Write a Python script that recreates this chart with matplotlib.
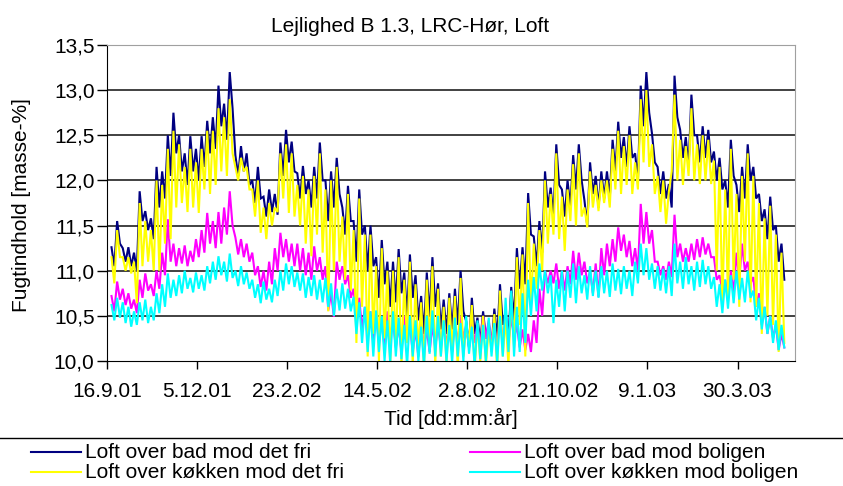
import numpy as np
import matplotlib
matplotlib.use("Agg")
import matplotlib.pyplot as plt
from matplotlib.lines import Line2D

plt.rcParams['font.family'] = ['Liberation Sans', 'DejaVu Sans']

title = "Lejlighed B 1.3, LRC-Hør, Loft"
xlabel = "Tid [dd:mm:år]"
ylabel = "Fugtindhold [masse-%]"

# x axis: days after 16.9.01, ticks every 80 days
tick_days = [0, 80, 160, 240, 320, 400, 480, 560]
tick_labels = ["16.9.01", "5.12.01", "23.2.02", "14.5.02",
               "2.8.02", "21.10.02", "9.1.03", "30.3.03"]
ytick_vals = [10.0, 10.5, 11.0, 11.5, 12.0, 12.5, 13.0, 13.5]
ytick_labels = ["10,0", "10,5", "11,0", "11,5", "12,0", "12,5", "13,0", "13,5"]

# readings every 5 days: high and low edge of each series (masse-%)
bad_fri_hi = [
    11.26, 11.55, 11.25, 11.26, 11.20, 11.88, 11.66, 11.58, 12.15, 12.10,
    12.50, 12.75, 12.50, 12.30, 12.49, 12.35, 12.49, 12.66, 12.70, 13.05,
    12.85, 13.20, 12.28, 12.38, 12.30, 12.00, 12.15, 11.82, 11.90, 11.85,
    12.42, 12.56, 12.43, 12.08, 12.16, 12.00, 12.15, 12.42, 12.00, 12.10,
    12.25, 11.70, 11.94, 11.55, 11.90, 11.50, 11.50, 11.15, 11.34, 11.10,
    11.10, 11.24, 10.98, 11.18, 10.95, 10.72, 10.98, 11.15, 10.86, 10.68,
    10.75, 10.80, 11.00, 10.44, 10.70, 10.48, 10.55, 10.42, 10.58, 10.85,
    10.55, 10.82, 11.25, 11.26, 11.86, 11.38, 11.55, 12.10, 11.92, 12.40,
    11.90, 12.00, 12.28, 12.40, 11.78, 12.20, 12.05, 12.10, 12.10, 12.45,
    12.65, 12.48, 12.60, 12.30, 13.05, 13.20, 12.52, 12.15, 12.10, 11.96,
    13.16, 12.56, 12.48, 12.95, 12.50, 12.60, 12.56, 12.32, 12.25, 12.00,
    12.45, 11.95, 12.15, 12.40, 12.15, 11.85, 11.68, 11.82, 11.50, 11.30]
bad_fri_lo = [
    11.05, 11.30, 11.10, 11.05, 11.00, 11.55, 11.45, 11.35, 11.70, 11.80,
    12.05, 12.30, 12.10, 11.95, 12.10, 12.00, 12.15, 12.30, 12.35, 12.60,
    12.45, 12.80, 12.05, 12.10, 11.95, 11.75, 11.80, 11.60, 11.65, 11.62,
    12.05, 12.20, 12.10, 11.80, 11.85, 11.70, 11.80, 12.00, 11.55, 11.70,
    11.85, 11.40, 11.55, 11.10, 11.40, 11.00, 11.05, 10.70, 10.85, 10.60,
    10.65, 10.75, 10.50, 10.70, 10.45, 10.30, 10.50, 10.60, 10.35, 10.30,
    10.35, 10.40, 10.55, 10.15, 10.30, 10.20, 10.25, 10.15, 10.25, 10.40,
    10.25, 10.45, 10.80, 10.85, 11.40, 11.05, 11.20, 11.70, 11.60, 11.95,
    11.60, 11.70, 11.90, 12.00, 11.50, 11.85, 11.70, 11.80, 11.80, 12.10,
    12.25, 12.15, 12.25, 12.00, 12.60, 12.75, 12.20, 11.85, 11.80, 11.70,
    12.70, 12.25, 12.15, 12.50, 12.20, 12.25, 12.20, 12.00, 11.90, 11.70,
    12.05, 11.65, 11.80, 12.00, 11.80, 11.55, 11.35, 11.45, 11.10, 10.90]

koekken_fri_hi = [
    11.15, 11.45, 11.15, 11.15, 11.10, 11.75, 11.55, 11.45, 12.00, 11.95,
    12.35, 12.55, 12.40, 12.15, 12.35, 12.20, 12.35, 12.55, 12.55, 12.80,
    12.70, 12.90, 12.15, 12.25, 12.15, 11.90, 12.00, 11.70, 11.75, 11.70,
    12.30, 12.40, 12.30, 11.95, 12.05, 11.90, 12.05, 12.30, 11.90, 12.00,
    12.15, 11.60, 11.85, 11.45, 11.80, 11.40, 11.40, 11.05, 11.25, 11.00,
    11.00, 11.15, 10.90, 11.10, 10.85, 10.65, 10.90, 11.05, 10.80, 10.60,
    10.70, 10.72, 10.92, 10.38, 10.62, 10.42, 10.50, 10.36, 10.52, 10.78,
    10.48, 10.75, 11.15, 11.18, 11.75, 11.30, 11.45, 12.00, 11.85, 12.30,
    11.82, 11.90, 12.18, 12.30, 11.70, 12.10, 11.95, 12.00, 12.00, 12.35,
    12.55, 12.38, 12.50, 12.20, 12.90, 13.00, 12.40, 12.05, 12.00, 11.88,
    12.95, 12.45, 12.38, 12.80, 12.40, 12.50, 12.45, 12.22, 12.15, 11.90,
    12.35, 11.85, 12.05, 12.30, 12.05, 11.75, 11.58, 11.72, 11.40, 11.20]
koekken_fri_lo = [
    10.86, 11.15, 11.00, 10.97, 10.64, 11.05, 11.10, 11.00, 11.00, 11.30,
    11.35, 11.70, 11.75, 11.65, 11.70, 11.64, 11.90, 11.85, 11.95, 12.10,
    12.05, 12.30, 12.00, 12.10, 11.90, 11.60, 11.42, 11.35, 11.50, 11.65,
    11.80, 11.64, 11.60, 11.50, 11.30, 11.16, 11.40, 11.20, 10.55, 11.00,
    11.10, 10.90, 10.78, 10.20, 10.60, 10.05, 10.30, 10.00, 10.25, 9.95,
    10.15, 9.95, 10.20, 9.95, 10.10, 9.90, 10.15, 9.95, 10.05, 9.95,
    10.10, 9.90, 10.05, 10.20, 9.90, 10.00, 9.95, 10.10, 9.90, 10.05,
    9.95, 10.15, 10.40, 10.05, 10.60, 10.80, 11.00, 11.30, 11.40, 11.35,
    11.22, 11.55, 11.50, 11.60, 11.48, 11.70, 11.66, 11.75, 11.70, 11.90,
    11.85, 11.95, 11.85, 11.90, 12.20, 12.15, 11.85, 11.65, 11.52, 12.10,
    12.00, 11.95, 12.05, 12.00, 11.96, 12.00, 11.96, 11.00, 10.60, 10.70,
    10.90, 10.60, 11.10, 10.65, 10.60, 10.30, 10.50, 10.40, 10.10, 10.20]

bad_bolig_hi = [
    10.72, 10.88, 10.80, 10.75, 10.68, 10.90, 10.97, 10.85, 11.00, 11.20,
    11.57, 11.30, 11.25, 11.28, 11.22, 11.35, 11.45, 11.64, 11.55, 11.65,
    11.70, 11.88, 11.37, 11.35, 11.30, 11.20, 11.05, 11.00, 11.10, 11.25,
    11.42, 11.35, 11.30, 11.30, 11.25, 11.20, 11.27, 11.15, 11.05, 10.75,
    11.10, 11.05, 10.95, 10.80, 10.70, 10.60, 10.55, 10.50, 10.45, 10.55,
    10.45, 10.40, 10.50, 10.40, 10.35, 10.45, 10.35, 10.40, 10.40, 10.45,
    10.35, 10.45, 10.50, 10.40, 10.45, 10.40, 10.50, 10.45, 10.40, 10.50,
    10.45, 10.50, 10.40, 10.35, 10.30, 10.45, 10.80, 11.00, 11.00, 11.08,
    11.00, 11.05, 11.22, 11.20, 11.10, 11.00, 11.08, 11.25, 11.30, 11.35,
    11.48, 11.40, 11.33, 11.25, 11.74, 11.65, 11.45, 11.10, 11.05, 11.10,
    11.62, 11.30, 11.25, 11.30, 11.35, 11.37, 11.30, 11.15, 10.95, 10.90,
    11.00, 11.20, 11.30, 11.10, 10.93, 10.75, 10.60, 10.50, 10.40, 10.30]
bad_bolig_lo = [
    10.55, 10.68, 10.62, 10.58, 10.53, 10.70, 10.78, 10.72, 10.80, 10.95,
    11.10, 11.05, 11.08, 11.05, 11.10, 11.15, 11.20, 11.30, 11.25, 11.30,
    11.40, 11.50, 11.18, 11.15, 11.10, 10.95, 10.82, 10.78, 10.85, 11.00,
    11.15, 11.10, 11.05, 11.00, 10.95, 10.90, 11.00, 10.90, 10.56, 10.49,
    10.90, 10.85, 10.70, 10.45, 10.35, 10.25, 10.20, 10.20, 10.15, 10.25,
    10.15, 10.10, 10.20, 10.10, 10.05, 10.15, 10.10, 10.15, 10.15, 10.20,
    10.10, 10.20, 10.25, 10.15, 10.20, 10.15, 10.25, 10.20, 10.15, 10.25,
    10.20, 10.25, 10.15, 10.12, 10.10, 10.20, 10.50, 10.86, 10.86, 10.80,
    10.78, 10.85, 10.90, 10.95, 10.86, 10.75, 10.71, 10.95, 11.05, 11.10,
    11.22, 11.15, 11.05, 11.00, 11.30, 11.30, 11.10, 10.95, 10.90, 10.93,
    11.15, 11.10, 11.10, 11.12, 11.15, 11.18, 11.15, 10.90, 10.78, 10.70,
    10.75, 10.90, 11.00, 10.86, 10.60, 10.40, 10.30, 10.25, 10.12, 10.15]

koekken_bolig_hi = [
    10.62, 10.70, 10.65, 10.60, 10.55, 10.65, 10.68, 10.60, 10.75, 10.85,
    10.97, 10.90, 10.95, 11.00, 10.92, 10.98, 10.95, 11.05, 11.10, 11.16,
    11.10, 11.19, 11.00, 11.05, 10.98, 10.90, 10.85, 10.88, 10.80, 10.90,
    11.00, 11.08, 11.05, 10.98, 10.97, 10.93, 10.95, 10.90, 10.92, 10.86,
    10.80, 10.86, 10.80, 10.71, 10.65, 10.60, 10.55, 10.56, 10.50, 10.45,
    10.55, 10.48, 10.40, 10.50, 10.45, 10.38, 10.50, 10.56, 10.50, 10.45,
    10.40, 10.48, 10.42, 10.50, 10.38, 10.45, 10.40, 10.48, 10.42, 10.50,
    10.70, 10.78, 10.60, 10.75, 10.90, 10.93, 11.08, 11.00, 10.95, 10.90,
    11.00, 11.00, 11.08, 11.05, 10.95, 11.05, 11.00, 11.05, 11.00, 11.08,
    11.02, 11.05, 11.00, 11.10, 11.30, 11.25, 11.08, 11.05, 11.02, 11.05,
    11.30, 11.10, 11.15, 11.05, 11.10, 11.12, 11.05, 10.93, 10.85, 10.90,
    10.95, 11.00, 10.92, 11.00, 10.78, 10.70, 10.60, 10.50, 10.45, 10.40]
koekken_bolig_lo = [
    10.45, 10.48, 10.42, 10.38, 10.40, 10.45, 10.42, 10.45, 10.53, 10.60,
    10.70, 10.72, 10.75, 10.80, 10.76, 10.80, 10.78, 10.86, 10.90, 10.95,
    10.88, 10.92, 10.83, 10.85, 10.80, 10.70, 10.64, 10.68, 10.65, 10.72,
    10.78, 10.85, 10.82, 10.78, 10.70, 10.72, 10.68, 10.65, 10.60, 10.50,
    10.56, 10.58, 10.55, 10.30, 10.20, 10.10, 10.05, 10.10, 10.00, 9.98,
    10.05, 10.02, 9.95, 10.05, 10.00, 9.95, 10.08, 10.05, 10.05, 10.00,
    9.98, 10.05, 10.00, 10.08, 9.95, 10.02, 10.00, 10.05, 9.98, 10.05,
    10.10, 10.05, 10.10, 10.20, 10.50, 10.55, 10.78, 10.75, 10.42, 10.60,
    10.55, 10.70, 10.64, 10.75, 10.68, 10.72, 10.70, 10.75, 10.71, 10.78,
    10.74, 10.80, 10.72, 10.86, 10.95, 10.90, 10.80, 10.78, 10.75, 10.72,
    10.86, 10.80, 10.85, 10.78, 10.82, 10.85, 10.80, 10.60, 10.53, 10.58,
    10.64, 10.68, 10.65, 10.70, 10.45, 10.35, 10.30, 10.20, 10.12, 10.15]

# legend order of the original (row by row): navy, magenta, yellow, cyan
series = [
    ("Loft over bad mod det fri", bad_fri_hi, bad_fri_lo, "#000080"),
    ("Loft over bad mod boligen", bad_bolig_hi, bad_bolig_lo, "#FF00FF"),
    ("Loft over køkken mod det fri", koekken_fri_hi, koekken_fri_lo, "#FFFF00"),
    ("Loft over køkken mod boligen", koekken_bolig_hi, koekken_bolig_lo, "#00FFFF"),
]

W, H = 843, 486
fig = plt.figure(figsize=(W / 100, H / 100), dpi=100)
ax = fig.add_axes([107 / W, 1 - 361 / H, (795 - 107) / W, (361 - 45) / H])

n = len(bad_fri_hi)
days = np.empty(2 * n)
days[0::2] = 4 + 5 * np.arange(n)
days[1::2] = 6.5 + 5 * np.arange(n)

for name, hi, lo, col in series:
    vals = np.empty(2 * n)
    vals[0::2] = hi
    vals[1::2] = lo
    ax.plot(days, vals, color=col, lw=1.5, solid_joinstyle='miter')

ax.set_xlim(0, 611)
ax.set_ylim(10.0, 13.5)
ax.set_xticks(tick_days)
ax.set_xticklabels(tick_labels)
ax.set_yticks(ytick_vals)
ax.set_yticklabels(ytick_labels)
ax.tick_params(axis='x', direction='out', length=6, width=1, pad=9, labelsize=15)
ax.tick_params(axis='y', direction='out', length=7, width=1, pad=2, labelsize=15)

for y in ytick_vals[1:-1]:
    ax.axhline(y, color='#333333', lw=1.3, zorder=0)
ax.spines['top'].set_color('#a0a0a0')
ax.spines['right'].set_color('#a0a0a0')
ax.spines['left'].set_color('black')
ax.spines['bottom'].set_color('black')

fig.text(410 / W, 1 - 27 / H, title, ha='center', va='center', fontsize=15)
fig.text(451 / W, 1 - 418 / H, xlabel, ha='center', va='center', fontsize=15)
fig.text(22 / W, 1 - 205 / H, ylabel, ha='center', va='center',
         rotation=90, fontsize=15)

# legend below the chart, with the top border line across the whole width
fig.add_artist(Line2D([0, 1], [1 - 438 / H, 1 - 438 / H], color='black', lw=1))
pos = [(31, 452), (470, 452), (31, 472), (470, 472)]
for (name, hi, lo, col), (lx, ly) in zip(series, pos):
    fy = 1 - ly / H
    fig.add_artist(Line2D([lx / W, (lx + 50) / W], [fy, fy], color=col, lw=1.5))
    fig.text((lx + 54) / W, fy, name, ha='left', va='center', fontsize=15)

fig.savefig("out.png", dpi=100)
